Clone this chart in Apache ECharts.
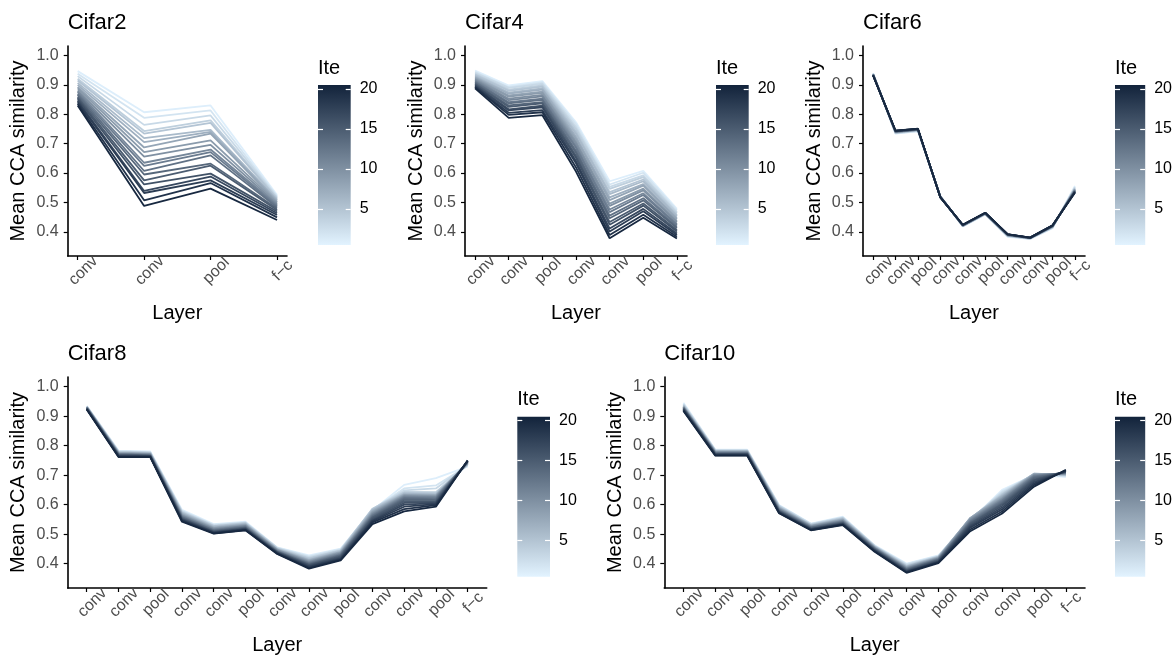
<!DOCTYPE html>
<html>
<head>
<meta charset="utf-8">
<style>
  html, body { margin: 0; padding: 0; background: #fff; }
  #main { width: 1175px; height: 657px; }
</style>
<script src="https://cdn.jsdelivr.net/npm/echarts@6/dist/echarts.min.js"></script>
</head>
<body>
<div id="main"></div>
<script>
// layer names per network
const layers2 = ['conv', 'conv', 'pool', 'f\u2212c'];
const layers4 = ['conv', 'conv', 'pool', 'conv', 'conv', 'pool', 'f\u2212c'];
const layers6 = ['conv', 'conv', 'pool', 'conv', 'conv', 'pool', 'conv', 'conv', 'pool', 'f\u2212c'];
const layers8 = ['conv', 'conv', 'pool', 'conv', 'conv', 'pool', 'conv', 'conv', 'pool', 'conv', 'conv', 'pool', 'f\u2212c'];
const layers10 = layers8;

const yTicks = [0.4, 0.5, 0.6, 0.7, 0.8, 0.9, 1.0];
const iteTicks = [5, 10, 15, 20];

// one row per iteration (Ite 1 .. 20), one value per layer
const cifar2 = [
  [0.947, 0.807, 0.830, 0.525],
  [0.938, 0.788, 0.813, 0.521],
  [0.930, 0.764, 0.796, 0.518],
  [0.921, 0.743, 0.779, 0.515],
  [0.915, 0.734, 0.771, 0.512],
  [0.907, 0.719, 0.747, 0.509],
  [0.900, 0.705, 0.740, 0.506],
  [0.893, 0.687, 0.734, 0.502],
  [0.888, 0.671, 0.711, 0.499],
  [0.881, 0.656, 0.696, 0.495],
  [0.876, 0.635, 0.680, 0.491],
  [0.870, 0.624, 0.671, 0.487],
  [0.866, 0.607, 0.660, 0.483],
  [0.860, 0.595, 0.632, 0.479],
  [0.856, 0.575, 0.625, 0.474],
  [0.851, 0.561, 0.598, 0.469],
  [0.846, 0.539, 0.588, 0.463],
  [0.841, 0.532, 0.575, 0.457],
  [0.836, 0.507, 0.566, 0.449],
  [0.830, 0.488, 0.547, 0.440]
];

const cifar4 = [
  [0.949, 0.898, 0.913, 0.773, 0.572, 0.607, 0.478],
  [0.945, 0.893, 0.909, 0.766, 0.561, 0.601, 0.473],
  [0.941, 0.890, 0.904, 0.757, 0.553, 0.592, 0.467],
  [0.937, 0.884, 0.898, 0.750, 0.546, 0.586, 0.463],
  [0.934, 0.880, 0.894, 0.741, 0.535, 0.578, 0.457],
  [0.930, 0.874, 0.888, 0.734, 0.528, 0.572, 0.453],
  [0.927, 0.870, 0.884, 0.724, 0.517, 0.562, 0.447],
  [0.924, 0.864, 0.877, 0.717, 0.508, 0.557, 0.443],
  [0.921, 0.860, 0.873, 0.708, 0.496, 0.547, 0.437],
  [0.918, 0.853, 0.866, 0.701, 0.488, 0.541, 0.433],
  [0.915, 0.848, 0.861, 0.692, 0.476, 0.531, 0.427],
  [0.912, 0.841, 0.853, 0.686, 0.467, 0.525, 0.423],
  [0.909, 0.837, 0.849, 0.676, 0.455, 0.514, 0.417],
  [0.906, 0.830, 0.841, 0.669, 0.446, 0.507, 0.413],
  [0.903, 0.825, 0.837, 0.659, 0.433, 0.496, 0.406],
  [0.900, 0.817, 0.829, 0.652, 0.424, 0.489, 0.401],
  [0.897, 0.813, 0.824, 0.641, 0.411, 0.478, 0.394],
  [0.894, 0.805, 0.814, 0.633, 0.401, 0.470, 0.389],
  [0.892, 0.798, 0.807, 0.619, 0.389, 0.458, 0.383],
  [0.888, 0.788, 0.797, 0.605, 0.378, 0.448, 0.377]
];

const cifar6 = [
  [0.940, 0.734, 0.742, 0.522, 0.418, 0.459, 0.383, 0.376, 0.412, 0.556],
  [0.939, 0.735, 0.743, 0.521, 0.419, 0.460, 0.384, 0.376, 0.413, 0.553],
  [0.938, 0.736, 0.744, 0.521, 0.419, 0.460, 0.385, 0.377, 0.414, 0.551],
  [0.938, 0.737, 0.745, 0.520, 0.420, 0.461, 0.386, 0.377, 0.415, 0.549],
  [0.937, 0.738, 0.745, 0.520, 0.420, 0.461, 0.387, 0.377, 0.416, 0.547],
  [0.937, 0.738, 0.746, 0.520, 0.420, 0.461, 0.387, 0.378, 0.416, 0.546],
  [0.936, 0.739, 0.746, 0.520, 0.421, 0.462, 0.388, 0.378, 0.417, 0.545],
  [0.936, 0.739, 0.747, 0.519, 0.421, 0.462, 0.388, 0.378, 0.417, 0.544],
  [0.936, 0.740, 0.747, 0.519, 0.421, 0.462, 0.389, 0.378, 0.418, 0.543],
  [0.935, 0.740, 0.747, 0.519, 0.421, 0.462, 0.389, 0.378, 0.418, 0.542],
  [0.935, 0.741, 0.748, 0.519, 0.422, 0.463, 0.389, 0.378, 0.419, 0.541],
  [0.935, 0.741, 0.748, 0.519, 0.422, 0.463, 0.390, 0.379, 0.419, 0.540],
  [0.934, 0.742, 0.748, 0.518, 0.422, 0.463, 0.390, 0.379, 0.419, 0.539],
  [0.934, 0.742, 0.749, 0.518, 0.422, 0.463, 0.390, 0.379, 0.420, 0.538],
  [0.934, 0.742, 0.749, 0.518, 0.423, 0.464, 0.390, 0.379, 0.420, 0.537],
  [0.933, 0.743, 0.749, 0.518, 0.423, 0.464, 0.391, 0.379, 0.420, 0.537],
  [0.933, 0.743, 0.750, 0.517, 0.423, 0.464, 0.391, 0.380, 0.421, 0.536],
  [0.933, 0.744, 0.750, 0.517, 0.423, 0.464, 0.391, 0.380, 0.421, 0.535],
  [0.932, 0.744, 0.750, 0.517, 0.424, 0.465, 0.391, 0.380, 0.421, 0.534],
  [0.932, 0.744, 0.751, 0.517, 0.424, 0.465, 0.392, 0.380, 0.422, 0.533]
];

const cifar8 = [
  [0.934, 0.783, 0.780, 0.582, 0.534, 0.542, 0.455, 0.428, 0.451, 0.580, 0.667, 0.690, 0.729],
  [0.933, 0.781, 0.778, 0.579, 0.532, 0.540, 0.454, 0.425, 0.449, 0.583, 0.655, 0.665, 0.732],
  [0.933, 0.780, 0.777, 0.577, 0.530, 0.539, 0.453, 0.422, 0.447, 0.585, 0.648, 0.655, 0.734],
  [0.932, 0.779, 0.776, 0.575, 0.528, 0.537, 0.452, 0.419, 0.445, 0.586, 0.643, 0.642, 0.736],
  [0.932, 0.778, 0.775, 0.573, 0.527, 0.536, 0.450, 0.417, 0.444, 0.584, 0.640, 0.638, 0.737],
  [0.931, 0.777, 0.774, 0.571, 0.525, 0.534, 0.449, 0.414, 0.442, 0.582, 0.637, 0.635, 0.738],
  [0.931, 0.776, 0.773, 0.569, 0.523, 0.533, 0.448, 0.412, 0.440, 0.579, 0.635, 0.633, 0.739],
  [0.930, 0.775, 0.772, 0.567, 0.521, 0.531, 0.447, 0.410, 0.438, 0.576, 0.633, 0.631, 0.740],
  [0.930, 0.774, 0.771, 0.565, 0.520, 0.530, 0.446, 0.408, 0.437, 0.573, 0.631, 0.629, 0.741],
  [0.929, 0.773, 0.770, 0.563, 0.518, 0.528, 0.445, 0.406, 0.435, 0.570, 0.629, 0.627, 0.742],
  [0.929, 0.772, 0.769, 0.561, 0.516, 0.527, 0.443, 0.404, 0.433, 0.567, 0.627, 0.625, 0.743],
  [0.928, 0.771, 0.768, 0.559, 0.514, 0.525, 0.442, 0.402, 0.431, 0.564, 0.624, 0.622, 0.744],
  [0.928, 0.770, 0.767, 0.557, 0.513, 0.523, 0.441, 0.400, 0.429, 0.561, 0.621, 0.619, 0.745],
  [0.927, 0.769, 0.766, 0.555, 0.511, 0.522, 0.440, 0.398, 0.427, 0.558, 0.617, 0.616, 0.745],
  [0.926, 0.768, 0.765, 0.553, 0.509, 0.520, 0.439, 0.396, 0.425, 0.555, 0.612, 0.612, 0.746],
  [0.926, 0.767, 0.765, 0.551, 0.508, 0.519, 0.438, 0.394, 0.422, 0.551, 0.606, 0.608, 0.747],
  [0.925, 0.766, 0.764, 0.549, 0.506, 0.517, 0.437, 0.391, 0.419, 0.547, 0.600, 0.605, 0.748],
  [0.924, 0.764, 0.763, 0.547, 0.505, 0.516, 0.436, 0.389, 0.416, 0.544, 0.593, 0.602, 0.748],
  [0.923, 0.763, 0.762, 0.545, 0.503, 0.514, 0.434, 0.386, 0.414, 0.540, 0.585, 0.598, 0.749],
  [0.922, 0.761, 0.761, 0.542, 0.502, 0.513, 0.433, 0.383, 0.411, 0.534, 0.577, 0.593, 0.750]
];

const cifar10 = [
  [0.945, 0.786, 0.786, 0.599, 0.536, 0.559, 0.462, 0.400, 0.428, 0.545, 0.650, 0.700, 0.694],
  [0.942, 0.785, 0.785, 0.597, 0.535, 0.557, 0.461, 0.398, 0.426, 0.548, 0.645, 0.702, 0.696],
  [0.940, 0.784, 0.784, 0.596, 0.534, 0.556, 0.460, 0.396, 0.425, 0.550, 0.641, 0.703, 0.698],
  [0.938, 0.783, 0.783, 0.594, 0.532, 0.554, 0.459, 0.394, 0.424, 0.552, 0.637, 0.704, 0.700],
  [0.936, 0.782, 0.782, 0.593, 0.531, 0.553, 0.458, 0.392, 0.423, 0.553, 0.634, 0.705, 0.701],
  [0.935, 0.781, 0.781, 0.591, 0.530, 0.551, 0.457, 0.391, 0.422, 0.554, 0.631, 0.705, 0.702],
  [0.933, 0.780, 0.780, 0.590, 0.529, 0.550, 0.456, 0.389, 0.421, 0.555, 0.628, 0.704, 0.703],
  [0.932, 0.779, 0.779, 0.588, 0.528, 0.548, 0.455, 0.388, 0.420, 0.554, 0.625, 0.703, 0.704],
  [0.931, 0.778, 0.778, 0.587, 0.527, 0.547, 0.454, 0.386, 0.419, 0.552, 0.622, 0.702, 0.705],
  [0.930, 0.777, 0.777, 0.585, 0.526, 0.545, 0.453, 0.385, 0.418, 0.550, 0.619, 0.700, 0.706],
  [0.929, 0.776, 0.776, 0.584, 0.524, 0.544, 0.452, 0.383, 0.416, 0.547, 0.616, 0.698, 0.707],
  [0.928, 0.775, 0.775, 0.582, 0.523, 0.542, 0.451, 0.382, 0.415, 0.544, 0.613, 0.696, 0.708],
  [0.927, 0.774, 0.774, 0.581, 0.522, 0.541, 0.450, 0.380, 0.414, 0.541, 0.609, 0.693, 0.709],
  [0.926, 0.773, 0.773, 0.579, 0.521, 0.539, 0.449, 0.379, 0.412, 0.538, 0.605, 0.690, 0.710],
  [0.925, 0.772, 0.772, 0.578, 0.519, 0.538, 0.447, 0.377, 0.411, 0.535, 0.601, 0.686, 0.711],
  [0.924, 0.771, 0.771, 0.577, 0.518, 0.536, 0.446, 0.376, 0.409, 0.531, 0.596, 0.682, 0.712],
  [0.922, 0.770, 0.770, 0.575, 0.517, 0.535, 0.445, 0.374, 0.407, 0.527, 0.590, 0.677, 0.713],
  [0.921, 0.768, 0.768, 0.574, 0.516, 0.534, 0.443, 0.372, 0.405, 0.522, 0.584, 0.672, 0.714],
  [0.919, 0.767, 0.767, 0.572, 0.514, 0.532, 0.442, 0.371, 0.404, 0.516, 0.577, 0.667, 0.716],
  [0.917, 0.766, 0.766, 0.571, 0.513, 0.531, 0.440, 0.369, 0.402, 0.510, 0.570, 0.661, 0.718]
];

// colour scale for Ite (1 = light, 20 = dark)
const lowColor = [221, 238, 251];
const highColor = [23, 40, 64];
function iteColor(ite) {
  const t = (ite - 1) / 19;
  const c = lowColor.map((l, k) => Math.round(l + (highColor[k] - l) * t));
  return 'rgb(' + c.join(',') + ')';
}

const FONT = 'Liberation Sans, Arial, sans-serif';

// panel layout (pixels)
const panels = [
  { title: 'Cifar2', layers: layers2, data: cifar2, left: 67.7, top: 46, width: 219.3, height: 210, barLeft: 318, barTop: 85 },
  { title: 'Cifar4', layers: layers4, data: cifar4, left: 465, top: 46, width: 222, height: 210, barLeft: 716, barTop: 85 },
  { title: 'Cifar6', layers: layers6, data: cifar6, left: 863, top: 46, width: 222, height: 210, barLeft: 1115, barTop: 85 },
  { title: 'Cifar8', layers: layers8, data: cifar8, left: 67.7, top: 377, width: 419, height: 211, barLeft: 517.3, barTop: 416.7 },
  { title: 'Cifar10', layers: layers10, data: cifar10, left: 664.3, top: 377, width: 420.7, height: 211, barLeft: 1115, barTop: 416.7 }
];
const barW = 32.7, barH = 160;

const chart = echarts.init(document.getElementById('main'), null, { renderer: 'canvas' });

const grid = [], xAxis = [], yAxis = [], series = [], title = [];

panels.forEach((p, i) => {
  const n = p.layers.length;
  const pad = 0.05 * (n - 1);
  const idx = p.layers.map((_, j) => j + 1);
  grid.push({ left: p.left, top: p.top, width: p.width, height: p.height, containLabel: false });
  xAxis.push({
    type: 'value', gridIndex: i, min: 1 - pad, max: n + pad,
    axisLine: { show: true, onZero: false, lineStyle: { color: '#000', width: 1.6 } },
    axisTick: { show: true, customValues: idx, length: 4, lineStyle: { color: '#000', width: 1.2 } },
    axisLabel: {
      customValues: idx, rotate: 45, margin: 9, align: 'center', verticalAlign: 'top',
      color: '#4D4D4D', fontSize: 16, fontFamily: FONT,
      formatter: v => p.layers[Math.round(v) - 1]
    },
    splitLine: { show: false },
    name: 'Layer', nameLocation: 'middle', nameGap: 47,
    nameTextStyle: { fontSize: 20, color: '#000', fontFamily: FONT }
  });
  yAxis.push({
    type: 'value', gridIndex: i, min: 0.3175, max: 1.0325,
    axisLine: { show: true, onZero: false, lineStyle: { color: '#000', width: 1.6 } },
    axisTick: { show: true, customValues: yTicks, length: 4, lineStyle: { color: '#000', width: 1.2 } },
    axisLabel: {
      customValues: yTicks, margin: 9, color: '#4D4D4D', fontSize: 16, fontFamily: FONT,
      formatter: v => v.toFixed(1)
    },
    splitLine: { show: false },
    name: 'Mean CCA similarity', nameLocation: 'middle', nameGap: 39,
    nameTextStyle: { fontSize: 20, color: '#000', fontFamily: FONT }
  });
  title.push({
    text: p.title, left: p.left, top: p.top - 34, padding: 0,
    textStyle: { fontSize: 22, fontWeight: 'normal', color: '#000', fontFamily: FONT }
  });
  title.push({
    text: 'Ite', left: p.barLeft, top: p.barTop - 27, padding: 0,
    textStyle: { fontSize: 20, fontWeight: 'normal', color: '#000', fontFamily: FONT }
  });
  p.data.forEach((row, r) => {
    series.push({
      type: 'line', xAxisIndex: i, yAxisIndex: i,
      data: row.map((v, j) => [j + 1, v]),
      showSymbol: false, symbol: 'none', silent: true,
      lineStyle: { color: iteColor(r + 1), width: 1.8 },
      z: 2 + r
    });
  });
});

// colour bars
panels.forEach((p, k) => {
  const gi = panels.length + k;
  grid.push({
    left: p.barLeft, top: p.barTop, width: barW, height: barH, show: true, borderWidth: 0,
    backgroundColor: new echarts.graphic.LinearGradient(0, 0, 0, 1, [
      { offset: 0, color: iteColor(20.5) },
      { offset: 1, color: iteColor(0.5) }
    ])
  });
  xAxis.push({ type: 'value', gridIndex: gi, show: false });
  const tickStyle = { show: true, inside: true, length: 5, customValues: iteTicks, lineStyle: { color: '#fff', width: 1.2 } };
  yAxis.push({
    type: 'value', gridIndex: gi, min: 0.5, max: 20.5, position: 'left',
    axisLine: { show: false }, axisTick: tickStyle, axisLabel: { show: false }, splitLine: { show: false }
  });
  yAxis.push({
    type: 'value', gridIndex: gi, min: 0.5, max: 20.5, position: 'right',
    axisLine: { show: false }, axisTick: tickStyle, splitLine: { show: false },
    axisLabel: { customValues: iteTicks, margin: 9, color: '#000', fontSize: 16, fontFamily: FONT }
  });
});

chart.setOption({
  backgroundColor: '#fff',
  animation: false,
  title, grid, xAxis, yAxis, series
});
</script>
</body>
</html>
